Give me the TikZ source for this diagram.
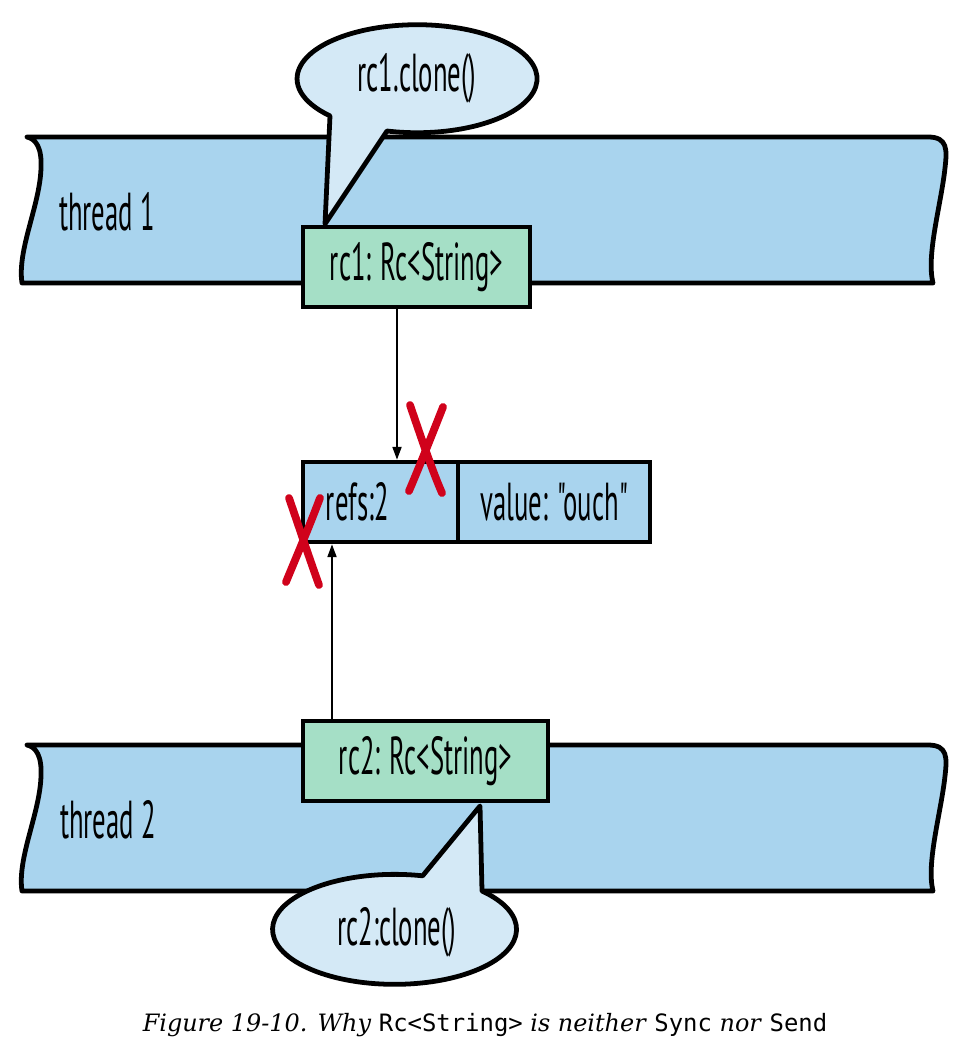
\documentclass[tikz,border=0pt]{standalone}
\usepackage{fontspec}
\setmainfont{DejaVu Serif}
\setmonofont{DejaVu Sans Mono}
\newfontfamily\boxfont{PT Sans}[FakeStretch=0.5]
\usetikzlibrary{arrows.meta}

\definecolor{threadblue}{HTML}{A9D4EE}
\definecolor{bubbleblue}{HTML}{D4E9F6}
\definecolor{rcgreen}{HTML}{A5DFC6}
\definecolor{crossred}{HTML}{D0021B}

\tikzset{
  band/.style={draw=black, fill=threadblue, line width=3.4pt, line join=round},
  bubble/.style={draw=black, fill=bubbleblue, line width=3.4pt, line join=round},
  label/.style={font=\boxfont\fontsize{38}{40}\selectfont, inner sep=0pt, outer sep=0pt},
  rcbox/.style={label, draw=black, fill=rcgreen, line width=3.4pt, minimum height=2cm},
  cell/.style={label, draw=black, fill=threadblue, line width=3.4pt, minimum height=2cm},
  ref/.style={-{Triangle[length=9pt,width=6.5pt]}, line width=0.9pt, shorten >=1.7pt, shorten <=1.7pt},
  cross/.style={draw=crossred, line width=5.5pt, line cap=round},
}

\begin{document}
\begin{tikzpicture}[x=0.025cm, y=-0.025cm]
  \useasboundingbox (0,0) rectangle (970,1050);
  % the two threads
  \foreach \dy in {0,608} {
    \begin{scope}[shift={(0,\dy)}]
      \draw[band] (27,137) -- (928,137)
        .. controls (948,137) and (947,150) .. (945,168)
        .. controls (941,205) and (926,255) .. (933,283) -- (22,283)
        .. controls (17,250) and (40,205) .. (41,168)
        .. controls (42,148) and (36,139) .. (27,137) -- cycle;
    \end{scope}
  }
  \node[label] (thread1) at (107,212) {thread 1};
  \node[label] (thread2) at (108,820) {thread 2};

  % call bubbles
  \draw[bubble] (325,224) -- (387,131)
    arc[start angle=104.5, end angle=-223.5, x radius=120, y radius=54] -- cycle;
  \node[label] (clone1) at (417,78) {rc1.clone()};
  \draw[bubble] (480,806) -- (482,891)
    arc[start angle=-44.2, end angle=283.3, x radius=122, y radius=55] -- cycle;
  \node[label] (clone2) at (397,932) {rc2:clone()};

  % Rc handles
  \node[rcbox, minimum width=5.675cm] (rc1) at (416.5,267) {rc1: Rc<String>};
  \node[rcbox, minimum width=6.125cm] (rc2) at (425.5,761) {rc2: Rc<String>};

  % shared allocation
  \node[cell, minimum width=3.875cm, text width=2.725cm, inner xsep=0.575cm,
    align=left] (refs) at (380.5,502) {refs:2};
  \node[cell, minimum width=4.8cm, anchor=west] (value) at (refs.east) {value: "ouch"};

  \coordinate (a1) at (397,0);
  \coordinate (a2) at (332,0);
  \draw[ref] (rc1.south -| a1) -- (refs.north -| a1);
  \draw[ref] (rc2.north -| a2) -- (refs.south -| a2);

  % crossed out counts
  \draw[cross] (410,405) .. controls (422,440) and (432,470) .. (442,493);
  \draw[cross] (443,407) .. controls (430,440) and (418,470) .. (409,491);
  \draw[cross] (289,498) .. controls (300,530) and (310,560) .. (319,585);
  \draw[cross] (320,498) .. controls (308,530) and (295,560) .. (286,582);

  \node[font=\fontsize{17}{20}\selectfont, inner sep=0pt] (caption) at (485,1025)
    {\itshape Figure 19-10. Why \upshape\texttt{Rc<String>} \itshape is neither
     \upshape\texttt{Sync} \itshape nor \upshape\texttt{Send}};
\end{tikzpicture}
\end{document}
